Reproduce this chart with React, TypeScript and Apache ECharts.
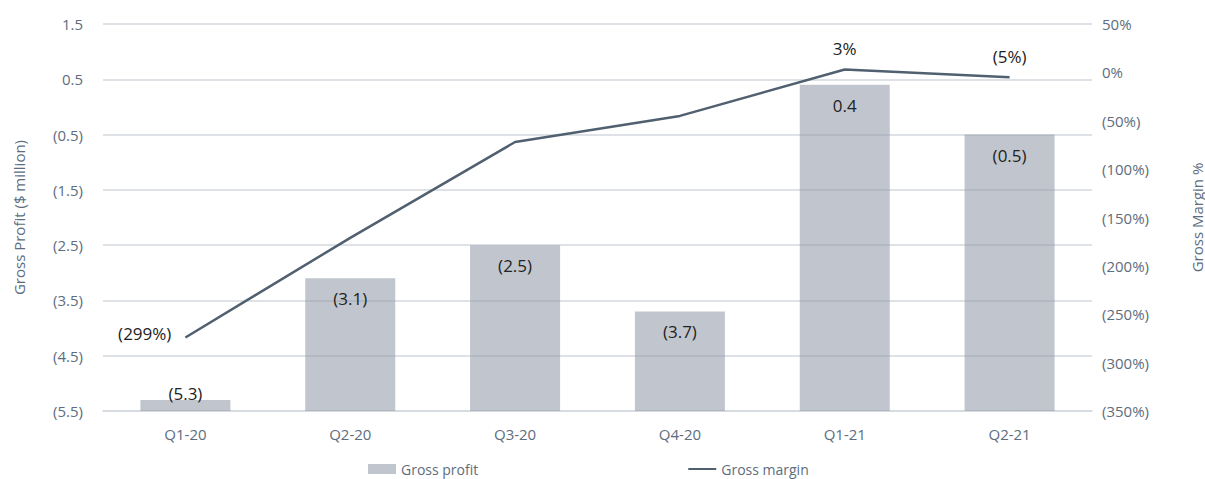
import React, { useEffect, useRef } from "react";
import * as echarts from "echarts";

const quarters = ["Q1-20", "Q2-20", "Q3-20", "Q4-20", "Q1-21", "Q2-21"];
const grossProfit = [-5.3, -3.1, -2.5, -3.7, 0.4, -0.5];
const grossMargin = [-274, -171, -72, -45, 3, -5];
const marginLabels = ["(299%)", "", "", "", "3%", "(5%)"];
const leftMin = -5.5;
const leftMax = 1.5;
const rightMin = -350;
const rightMax = 50;

const FONT = "'Open Sans', sans-serif";
const AXIS_COLOR = "#5d6d7e";

const fmtNum = (v: number) => {
  const s = Math.abs(v).toFixed(1);
  return v < 0 ? `(${s})` : s;
};
const fmtPct = (v: number) => {
  const s = `${Math.abs(Math.round(v))}%`;
  return v < 0 ? `(${s})` : s;
};

export default function App() {
  const ref = useRef<HTMLDivElement>(null);
  useEffect(() => {
    if (!ref.current) return;
    const chart = echarts.init(ref.current, undefined, { renderer: "svg" });
    chart.setOption({
      animation: false,
      textStyle: { fontFamily: FONT },
      grid: { left: 103, right: 113, top: 24, bottom: 68, containLabel: false, outerBoundsMode: "none" },
      legend: {
        top: 457,
        left: 363,
        itemGap: 209,
        itemWidth: 28,
        itemHeight: 10,
        textStyle: { color: AXIS_COLOR, fontSize: 14, fontFamily: FONT },
        data: [
          { name: "Gross profit", icon: "rect" },
          { name: "Gross margin", itemStyle: { opacity: 0 } },
        ],
      },
      xAxis: {
        type: "category",
        data: quarters,
        axisLine: { show: true, onZero: false, lineStyle: { color: "#d3d8df", width: 1.5 } },
        axisTick: { show: false },
        axisLabel: { color: AXIS_COLOR, fontSize: 15, margin: 15, fontFamily: FONT },
      },
      yAxis: [
        {
          type: "value",
          min: leftMin,
          max: leftMax,
          interval: 1,
          position: "left",
          name: "Gross Profit ($ million)",
          nameLocation: "middle",
          nameRotate: 90,
          nameGap: 77,
          nameTextStyle: { color: AXIS_COLOR, fontSize: 15, fontFamily: FONT },
          axisLabel: { color: AXIS_COLOR, fontSize: 15, margin: 20, formatter: fmtNum, fontFamily: FONT },
          axisLine: { show: false },
          axisTick: { show: false },
          splitLine: { lineStyle: { color: "#d3d8df", width: 1.5 } },
        },
        {
          type: "value",
          min: rightMin,
          max: rightMax,
          interval: 50,
          position: "right",
          name: "Gross Margin %",
          nameLocation: "middle",
          nameRotate: 90,
          nameGap: 97,
          nameTextStyle: { color: AXIS_COLOR, fontSize: 15, fontFamily: FONT },
          axisLabel: { color: AXIS_COLOR, fontSize: 15, margin: 10, formatter: fmtPct, fontFamily: FONT },
          axisLine: { show: false },
          axisTick: { show: false },
          splitLine: { show: false },
        },
        {
          type: "value",
          min: 0,
          max: leftMax - leftMin,
          show: false,
          splitLine: { show: false },
        },
      ],
      series: [
        {
          name: "Gross profit",
          type: "bar",
          yAxisIndex: 2,
          barWidth: 90,
          z: 1,
          data: grossProfit.map((v, i) =>
            i === 0
              ? { value: v - leftMin, label: { position: "top", distance: -2 } }
              : v - leftMin
          ),
          itemStyle: { color: "rgba(142,151,166,0.55)" },
          label: {
            show: true,
            position: "insideTop",
            distance: 12,
            color: "#222",
            fontSize: 17,
            fontFamily: FONT,
            formatter: (p: any) => fmtNum(grossProfit[p.dataIndex]),
          },
        },
        {
          name: "Gross margin",
          type: "line",
          yAxisIndex: 1,
          z: 3,
          data: grossMargin.map((v, i) =>
            i === 0
              ? { value: v, label: { position: "left", distance: 0, offset: [-14, -4] } }
              : v
          ),
          symbol: "circle",
          symbolSize: 0.1,
          showSymbol: true,
          lineStyle: { color: "#506070", width: 2.5 },
          itemStyle: { color: "#506070" },
          label: {
            show: true,
            position: "top",
            distance: 12,
            color: "#222",
            fontSize: 17,
            fontFamily: FONT,
            formatter: (p: any) => marginLabels[p.dataIndex],
          },
        },
      ],
    });
    return () => chart.dispose();
  }, []);
  return (
    <div
      ref={ref}
      style={{ position: "absolute", left: 0, top: 0, width: 1205, height: 479 }}
    />
  );
}
